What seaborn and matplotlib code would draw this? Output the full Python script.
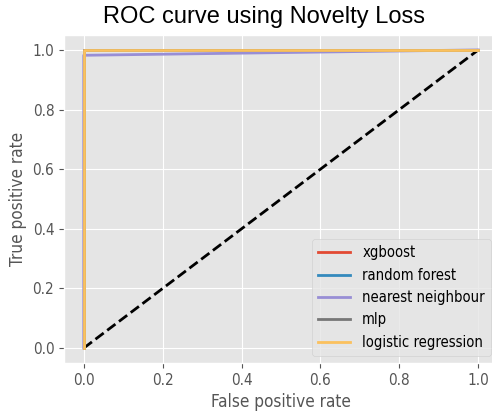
import matplotlib
matplotlib.use("Agg")
import matplotlib.pyplot as plt
import seaborn as sns
import pandas as pd

# ROC curve points per model
models = ["xgboost", "random forest", "nearest neighbour", "mlp", "logistic regression"]
fpr_xgb = [0.0, 0.0, 1.0]
tpr_xgb = [0.0, 1.0, 1.0]
fpr_rf = [0.0, 0.0, 1.0]
tpr_rf = [0.0, 1.0, 1.0]
fpr_knn = [0.0, 0.0, 1.0]
tpr_knn = [0.0, 0.982, 1.0]
fpr_mlp = [0.0, 0.0, 1.0]
tpr_mlp = [0.0, 1.0, 1.0]
fpr_lr = [0.0, 0.0, 1.0]
tpr_lr = [0.0, 1.0, 1.0]
chance_fpr = [0.0, 1.0]
chance_tpr = [0.0, 1.0]

curves = [(fpr_xgb, tpr_xgb), (fpr_rf, tpr_rf), (fpr_knn, tpr_knn),
          (fpr_mlp, tpr_mlp), (fpr_lr, tpr_lr)]
colors = ["#E24A33", "#348ABD", "#988ED5", "#777777", "#FBC15E"]

plt.style.use("ggplot")
plt.rcParams["font.family"] = ["DejaVu Sans"]
plt.rcParams["font.stretch"] = "condensed"

fig = plt.figure(figsize=(4.92, 4.19), dpi=100)
W, H = 492, 419
ax = fig.add_axes([64 / W, 56 / H, (498 - 64) / W, (363 - 35) / H])

# chance diagonal
ax.plot(chance_fpr, chance_tpr, "k--", lw=2)
for name, (fx, ty), c in zip(models, curves, colors):
    df = pd.DataFrame({"fpr": fx, "tpr": ty})
    sns.lineplot(data=df, x="fpr", y="tpr", ax=ax, color=c, lw=2,
                 label=name, sort=False, estimator=None)

ax.set_xlim(-0.05, 1.05)
ax.set_ylim(-0.05, 1.05)
ax.set_xticks([0, 0.2, 0.4, 0.6, 0.8, 1.0])
ax.set_yticks([0, 0.2, 0.4, 0.6, 0.8, 1.0])
ax.tick_params(labelsize=11, colors="#555555", labelcolor="#555555")
ax.set_xlabel("False positive rate", fontsize=12.3, color="#555555")
ax.set_ylabel("True positive rate", fontsize=12.3, color="#555555")
ax.legend(loc="lower right", fontsize=10.6, handlelength=2.2)

fig.text(264 / W, 1 - 17 / H, "ROC curve using Novelty Loss", ha="center",
         va="center", fontsize=17, family="Liberation Sans",
         stretch="normal", color="black")

fig.savefig("out.png", dpi=100)
